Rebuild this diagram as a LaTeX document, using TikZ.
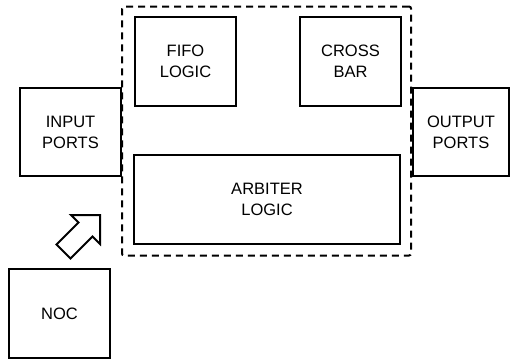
\documentclass[tikz,border=0pt]{standalone}
\usepackage{fontspec}
\setmainfont{Liberation Sans}
\begin{document}
\begin{tikzpicture}[x=1pt,y=-1pt,
  blk/.style={draw=black,line width=2pt,fill=white,rectangle,align=center,
    font=\fontsize{16.5}{21}\selectfont,inner sep=0pt},
  grp/.style={draw=black,line width=2pt,dash pattern=on 7pt off 5pt,rounded corners=2pt,
    rectangle,inner sep=0pt}]
\useasboundingbox (0,0) rectangle (511,360);
\node[grp,minimum width=289pt,minimum height=249pt] (router) at (266.5,131) {};
\node[blk,minimum width=101pt,minimum height=89pt] (fifo) at (185.5,61.5) {FIFO\\LOGIC};
\node[blk,minimum width=101pt,minimum height=89pt] (cross) at (350.5,61.5) {CROSS\\BAR};
\node[blk,minimum width=101pt,minimum height=88pt] (inp) at (70.5,132) {INPUT\\PORTS};
\node[blk,minimum width=96pt,minimum height=88pt] (outp) at (461,132) {OUTPUT\\PORTS};
\node[blk,minimum width=266pt,minimum height=89pt] (arb) at (267,199.5) {ARBITER\\LOGIC};
\node[blk,minimum width=101pt,minimum height=89pt] (noc) at (59.5,313.5) {NOC};
% block arrow from NOC towards the router
\draw[line width=2pt,line join=miter,fill=white]
  (100,215) -- (71,215) -- (78.5,222.5) -- (56.5,244.5) -- (70.5,258.5)
  -- (92.5,236.5) -- (100,244) -- cycle;
\end{tikzpicture}
\end{document}
